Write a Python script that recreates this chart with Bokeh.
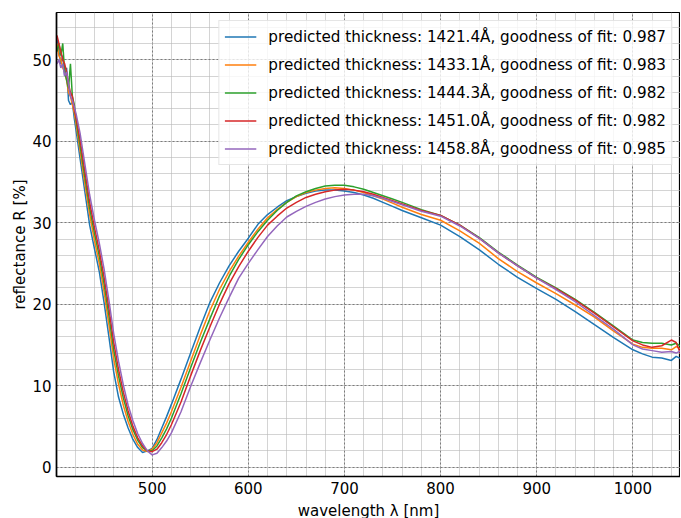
from bokeh.plotting import figure
from bokeh.models import Range1d, FixedTicker
from bokeh.embed import file_html
from bokeh.resources import INLINE

# ---------------- data ----------------
wavelength = [401, 403, 405, 407, 409, 411, 413, 415, 417, 419, 421,
              425, 430, 435, 440, 445, 450, 455, 460, 465, 470, 475, 480, 485, 490, 495, 500,
              505, 510, 515, 520, 530, 540, 550, 560, 570, 580, 590, 600, 610, 620, 630,
              640, 650, 660, 670, 680, 690, 700, 710, 720, 730, 740, 750, 760,
              780, 800, 820, 840, 860, 880, 900, 920, 940, 960, 980, 1000,
              1010, 1020, 1030, 1040, 1045, 1050]

R_1421 = [52.5, 51.0, 49.5, 50.5, 48.0, 49.0, 45.0, 44.5, 44.8, 42.8, 41.2,
          37.9, 33.8, 29.7, 26.8, 24.0, 20.2, 16.0, 11.7, 8.6, 6.5, 4.8, 3.4, 2.4, 1.8, 2.0, 2.3,
          3.4, 4.8, 6.2, 7.7, 10.8, 14.0, 17.2, 20.2, 22.6, 24.7, 26.5, 28.1, 29.8, 31.0, 31.9,
          32.7, 33.2, 33.6, 33.9, 34.0, 34.0, 33.9, 33.7, 33.4, 33.0, 32.5, 32.0, 31.5,
          30.6, 29.7, 28.3, 26.7, 24.9, 23.3, 21.9, 20.6, 19.1, 17.5, 15.9, 14.4,
          13.9, 13.5, 13.4, 13.1, 13.6, 13.3]

R_1433 = [52.0, 50.5, 50.0, 49.0, 48.5, 47.5, 46.0, 45.5, 44.5, 43.5, 42.0,
          38.8, 34.8, 31.0, 27.8, 25.0, 21.5, 17.5, 13.3, 10.2, 7.6, 5.6, 4.0, 2.8, 2.1, 1.9, 2.2,
          3.0, 4.2, 5.4, 6.8, 9.8, 13.0, 16.2, 19.2, 21.8, 24.0, 25.9, 27.6, 29.2, 30.6, 31.6,
          32.5, 33.2, 33.7, 34.0, 34.2, 34.3, 34.2, 34.0, 33.7, 33.3, 32.9, 32.4, 31.9,
          31.0, 30.3, 29.0, 27.5, 25.6, 24.0, 22.6, 21.3, 19.9, 18.4, 16.7, 15.1,
          14.7, 14.6, 14.6, 14.4, 14.8, 14.5]

R_1444 = [51.0, 52.0, 50.5, 52.0, 48.5, 47.5, 46.5, 49.5, 45.5, 44.5, 42.5,
          39.5, 35.6, 31.8, 28.7, 25.9, 22.5, 18.6, 14.4, 11.2, 8.5, 6.3, 4.6, 3.3, 2.4, 2.0, 2.0,
          2.6, 3.6, 4.7, 6.0, 9.0, 12.2, 15.3, 18.2, 21.0, 23.4, 25.5, 27.3, 28.9, 30.3, 31.5,
          32.5, 33.3, 33.8, 34.2, 34.5, 34.6, 34.6, 34.4, 34.1, 33.7, 33.3, 32.9, 32.5,
          31.6, 30.9, 29.7, 28.2, 26.4, 24.8, 23.3, 22.0, 20.6, 19.0, 17.3, 15.6,
          15.3, 15.2, 15.2, 15.0, 15.2, 14.8]

R_1451 = [53.0, 52.0, 51.0, 50.0, 49.5, 48.5, 47.0, 46.0, 45.5, 44.0, 42.8,
          40.2, 36.3, 32.5, 29.4, 26.6, 23.3, 19.5, 15.3, 12.0, 9.2, 6.9, 5.0, 3.6, 2.6, 2.0, 1.9,
          2.2, 3.0, 4.0, 5.2, 8.0, 11.2, 14.3, 17.2, 20.0, 22.5, 24.6, 26.5, 28.2, 29.7, 30.8,
          31.8, 32.5, 33.1, 33.5, 33.8, 34.0, 34.1, 34.0, 33.8, 33.5, 33.1, 32.7, 32.3,
          31.5, 30.9, 29.7, 28.1, 26.3, 24.7, 23.2, 21.9, 20.5, 18.9, 17.2, 15.5,
          15.0, 14.7, 14.9, 15.6, 15.3, 13.8]

R_1458 = [49.5, 50.0, 49.0, 49.5, 48.0, 48.5, 47.0, 45.5, 45.0, 44.2, 43.3,
          41.0, 37.2, 33.4, 30.3, 27.5, 24.3, 20.5, 16.4, 13.0, 10.1, 7.6, 5.7, 4.1, 2.9, 2.0, 1.5,
          1.7, 2.4, 3.2, 4.2, 6.8, 9.9, 12.8, 15.6, 18.3, 20.8, 23.2, 25.0, 26.7, 28.3, 29.6,
          30.7, 31.4, 32.0, 32.5, 32.9, 33.2, 33.4, 33.5, 33.5, 33.3, 33.0, 32.6, 32.2,
          31.4, 30.8, 29.6, 28.1, 26.3, 24.7, 23.2, 21.8, 20.3, 18.6, 16.9, 15.0,
          14.5, 14.3, 14.1, 14.2, 14.0, 14.3]

series_labels = [
    "predicted thickness: 1421.4Å, goodness of fit: 0.987",
    "predicted thickness: 1433.1Å, goodness of fit: 0.983",
    "predicted thickness: 1444.3Å, goodness of fit: 0.982",
    "predicted thickness: 1451.0Å, goodness of fit: 0.982",
    "predicted thickness: 1458.8Å, goodness of fit: 0.985",
]
series_values = [R_1421, R_1433, R_1444, R_1451, R_1458]
colors = ["#1f77b4", "#ff7f0e", "#2ca02c", "#d62728", "#9467bd"]

x_ticks = [500, 600, 700, 800, 900, 1000]
x_minor = list(range(400, 1060, 20))
y_ticks = [0, 10, 20, 30, 40, 50]
y_minor = list(range(0, 56, 2))

FONT = "DejaVu Sans"
FS = "15px"

p = figure(frame_width=624, frame_height=464,
           x_range=Range1d(400.5, 1049.5), y_range=Range1d(-1.15, 55.8),
           output_backend="svg", toolbar_location=None,
           min_border_left=56, min_border_right=0, min_border_top=12, min_border_bottom=40,
           background_fill_color="white", border_fill_color="white")

p.outline_line_color = "#000000"
p.outline_line_width = 1.2

for vals, lab, col in zip(series_values, series_labels, colors):
    p.line(wavelength, vals, line_color=col, line_width=1.5, legend_label=lab)

p.xaxis.ticker = FixedTicker(ticks=x_ticks, minor_ticks=x_minor)
p.yaxis.ticker = FixedTicker(ticks=y_ticks, minor_ticks=y_minor)

for ax in (p.xaxis[0], p.yaxis[0]):
    ax.major_tick_in = 0
    ax.major_tick_out = 0
    ax.minor_tick_in = 0
    ax.minor_tick_out = 0
    ax.axis_line_color = "#000000"
    ax.axis_line_width = 1.6
    ax.major_label_text_font = FONT
    ax.major_label_text_font_size = FS
    ax.major_label_text_color = "#000000"
    ax.axis_label_text_font = FONT
    ax.axis_label_text_font_size = FS
    ax.axis_label_text_font_style = "normal"
    ax.axis_label_text_color = "#000000"
    ax.major_label_standoff = 5

p.xaxis.axis_label = "wavelength λ [nm]"
p.yaxis.axis_label = "reflectance R [%]"
p.xaxis.axis_label_standoff = 5
p.yaxis.axis_label_standoff = 0

for g in (p.xgrid[0], p.ygrid[0]):
    g.grid_line_color = "#707070"
    g.grid_line_dash = "2 2"
    g.grid_line_width = 0.9
    g.minor_grid_line_color = "#b8b8b8"
    g.minor_grid_line_alpha = 0.6
    g.minor_grid_line_width = 1

leg = p.legend[0]
leg.location = "top_right"
leg.margin = 8
leg.padding = 5
leg.spacing = 7
leg.glyph_width = 32
leg.glyph_height = 21
leg.label_height = 21
leg.label_standoff = 12
leg.label_text_font = FONT
leg.label_text_font_size = "15.2px"
leg.label_text_color = "#000000"
leg.border_line_color = "#cccccc"
leg.border_line_width = 1
leg.background_fill_alpha = 0.8

open("out.html", "w").write(file_html(p, INLINE))
